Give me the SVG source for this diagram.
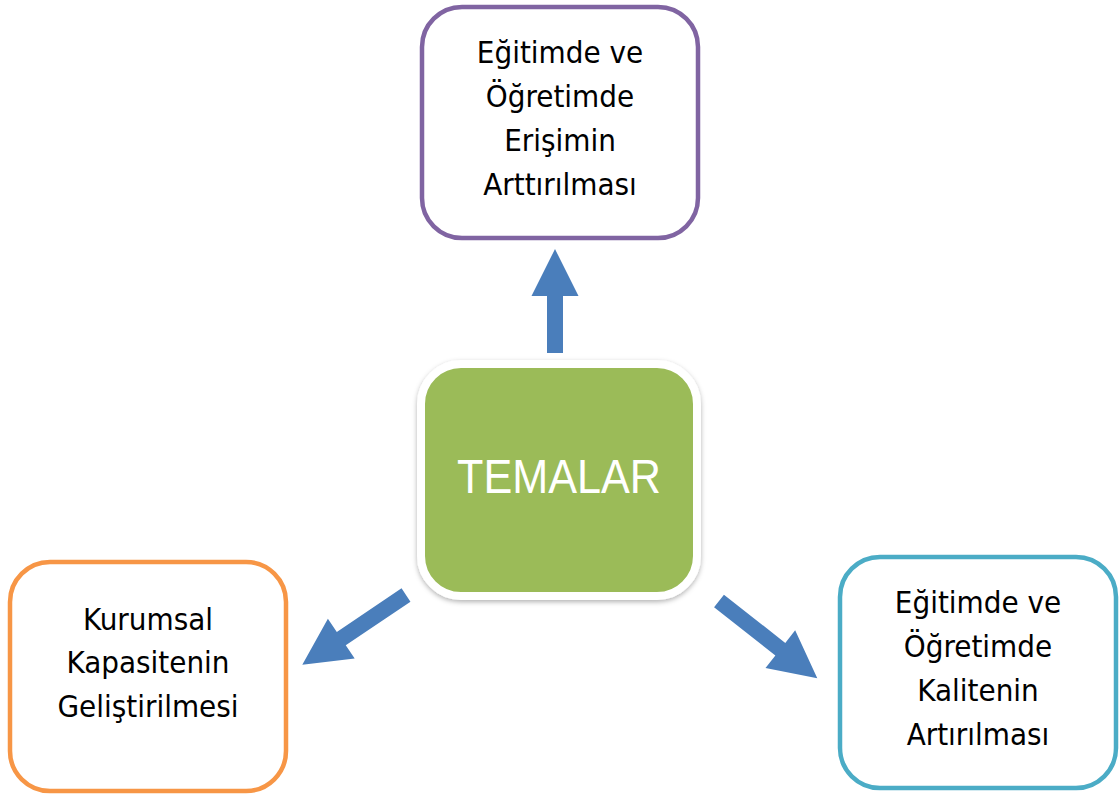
<svg xmlns="http://www.w3.org/2000/svg" width="1120" height="800" viewBox="0 0 1120 800">
<defs>
<style>
.box{fill:#ffffff;stroke-width:4.5}
.lbl{font-family:"DejaVu Sans Condensed","DejaVu Sans","Liberation Sans",sans-serif;font-size:31px;fill:#000000;text-anchor:middle}
.arrow{fill:#4A7EBB}
</style>
<filter id="sh" x="-10%" y="-10%" width="120%" height="120%">
<feDropShadow dx="0" dy="2" stdDeviation="2.5" flood-color="#000000" flood-opacity="0.3"/>
</filter>
</defs>
<rect width="1120" height="800" fill="#ffffff"/>
<g id="connectors">
<path class="arrow" transform="translate(555,353) rotate(-90)" d="M0,-8 L57,-8 L57,-23.5 L104,0 L57,23.5 L57,8 L0,8 Z"/>
<path class="arrow" transform="translate(406,595) rotate(146.06)" d="M0,-8 L78,-8 L78,-24 L125,0 L78,24 L78,8 L0,8 Z"/>
<path class="arrow" transform="translate(719,601) rotate(38.16)" d="M0,-8 L78,-8 L78,-24 L125,0 L78,24 L78,8 L0,8 Z"/>
</g>
<g id="top">
<rect class="box" x="422" y="7" width="276" height="231" rx="40" stroke="#8064A2"/>
<text class="lbl" x="560" y="63">Eğitimde ve</text>
<text class="lbl" x="560" y="107">Öğretimde</text>
<text class="lbl" x="560" y="151">Erişimin</text>
<text class="lbl" x="560" y="195">Arttırılması</text>
</g>
<g id="center">
<rect x="421" y="364" width="276" height="232" rx="40" fill="#9BBB59" stroke="#ffffff" stroke-width="8" filter="url(#sh)"/>
<text x="559" y="493" font-family="'Liberation Sans',Arial,sans-serif" font-size="48" fill="#ffffff" text-anchor="middle" textLength="204" lengthAdjust="spacingAndGlyphs">TEMALAR</text>
</g>
<g id="left">
<rect class="box" x="10" y="562" width="276" height="229" rx="40" stroke="#F79646"/>
<text class="lbl" x="148" y="630">Kurumsal</text>
<text class="lbl" x="148" y="673">Kapasitenin</text>
<text class="lbl" x="148" y="717">Geliştirilmesi</text>
</g>
<g id="right">
<rect class="box" x="840" y="557" width="276" height="231" rx="40" stroke="#4BACC6"/>
<text class="lbl" x="978" y="613">Eğitimde ve</text>
<text class="lbl" x="978" y="657">Öğretimde</text>
<text class="lbl" x="978" y="701">Kalitenin</text>
<text class="lbl" x="978" y="745">Artırılması</text>
</g>
</svg>
